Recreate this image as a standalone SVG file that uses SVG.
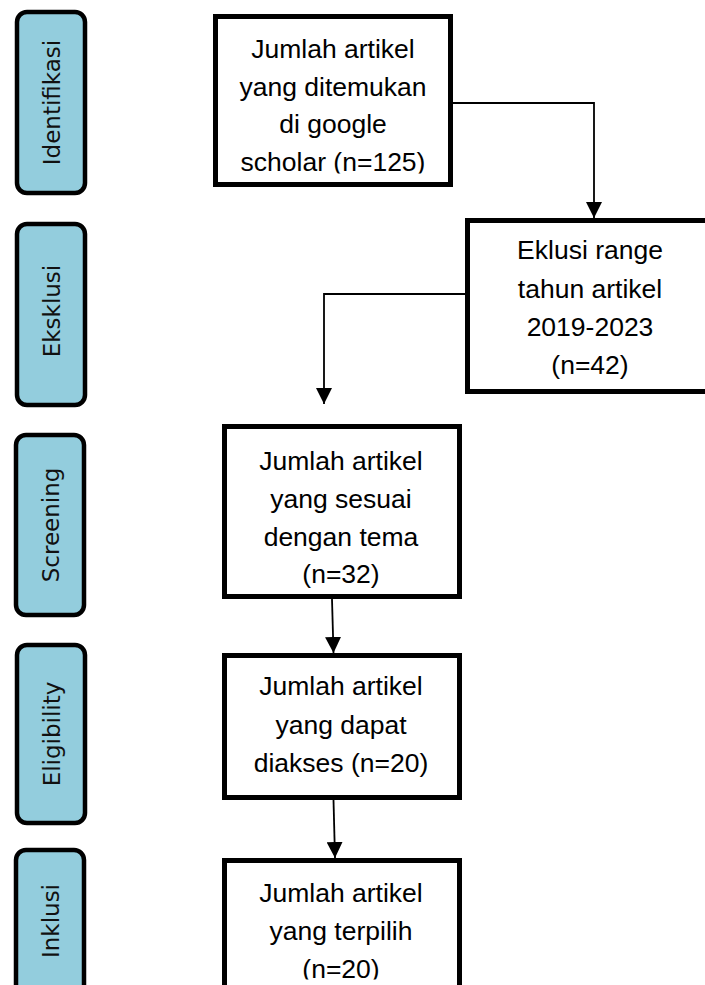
<svg xmlns="http://www.w3.org/2000/svg" width="705" height="985" viewBox="0 0 705 985">
<style>
.stage rect{fill:#93CDDD;stroke:#000;stroke-width:4.5}
.stage text{font-family:"DejaVu Sans",sans-serif;font-size:23px;fill:#111;text-anchor:middle}
.box rect{fill:#fff;stroke:#000;stroke-width:5}
.box text{font-family:"Liberation Sans",Arial,sans-serif;font-size:26.5px;fill:#000;text-anchor:middle}
.conn path{fill:none;stroke:#000;stroke-width:1.8}
</style>
<defs>
<marker id="ah" markerUnits="userSpaceOnUse" markerWidth="16" markerHeight="16" refX="16" refY="8" orient="auto">
<path d="M0,0 L16,8 L0,16 z" fill="#000"/>
</marker>
<clipPath id="c1"><rect x="215" y="16" width="236" height="157.5"/></clipPath>
<clipPath id="c5"><rect x="224" y="860" width="236" height="119.5"/></clipPath>
</defs>
<rect width="705" height="985" fill="#fff"/>

<g id="stage-identifikasi" class="stage">
<rect x="17" y="12" width="68" height="181" rx="10"/>
<text transform="translate(51,102.5) rotate(-90)" y="8.5">Identifikasi</text>
</g>
<g id="stage-eksklusi" class="stage">
<rect x="17" y="224" width="68" height="181" rx="10"/>
<text transform="translate(51,311) rotate(-90)" y="8.5">Eksklusi</text>
</g>
<g id="stage-screening" class="stage">
<rect x="16" y="435" width="68" height="180" rx="10"/>
<text transform="translate(50,525) rotate(-90)" y="8.5">Screening</text>
</g>
<g id="stage-eligibility" class="stage">
<rect x="17" y="645" width="68" height="178" rx="10"/>
<text transform="translate(51,734) rotate(-90)" y="8.5">Eligibility</text>
</g>
<g id="stage-inklusi" class="stage">
<rect x="16" y="850" width="68" height="180" rx="10"/>
<text transform="translate(50,921) rotate(-90)" y="8.5">Inklusi</text>
</g>

<g id="box-identifikasi" class="box">
<rect x="215.5" y="16.5" width="235" height="168"/>
<g clip-path="url(#c1)">
<text x="333" y="57.5">Jumlah artikel</text>
<text x="333" y="95.5">yang ditemukan</text>
<text x="333" y="133">di google</text>
<text x="333" y="170.5">scholar (n=125)</text>
</g>
</g>
<g id="box-eksklusi" class="box">
<rect x="467.5" y="220.5" width="250" height="171"/>
<text x="590" y="259">Eklusi range</text>
<text x="590" y="297.5">tahun artikel</text>
<text x="590" y="336">2019-2023</text>
<text x="590" y="374">(n=42)</text>
</g>
<g id="box-screening" class="box">
<rect x="224.5" y="426.5" width="235" height="170"/>
<text x="341" y="470">Jumlah artikel</text>
<text x="341" y="508">yang sesuai</text>
<text x="341" y="545.5">dengan tema</text>
<text x="341" y="583">(n=32)</text>
</g>
<g id="box-eligibility" class="box">
<rect x="224.5" y="655.5" width="235" height="142"/>
<text x="341" y="695">Jumlah artikel</text>
<text x="341" y="733.5">yang dapat</text>
<text x="341" y="772">diakses (n=20)</text>
</g>
<g id="box-inklusi" class="box">
<rect x="224.5" y="860.5" width="235" height="160"/>
<g clip-path="url(#c5)">
<text x="341" y="902">Jumlah artikel</text>
<text x="341" y="940">yang terpilih</text>
<text x="341" y="977.5">(n=20)</text>
</g>
</g>

<g id="connectors" class="conn">
<path d="M453,103 H594 V218" marker-end="url(#ah)"/>
<path d="M465,294 H324 V404" marker-end="url(#ah)"/>
<path d="M332,599 L333.5,653" marker-end="url(#ah)"/>
<path d="M333.5,800 L335,858" marker-end="url(#ah)"/>
</g>
</svg>
